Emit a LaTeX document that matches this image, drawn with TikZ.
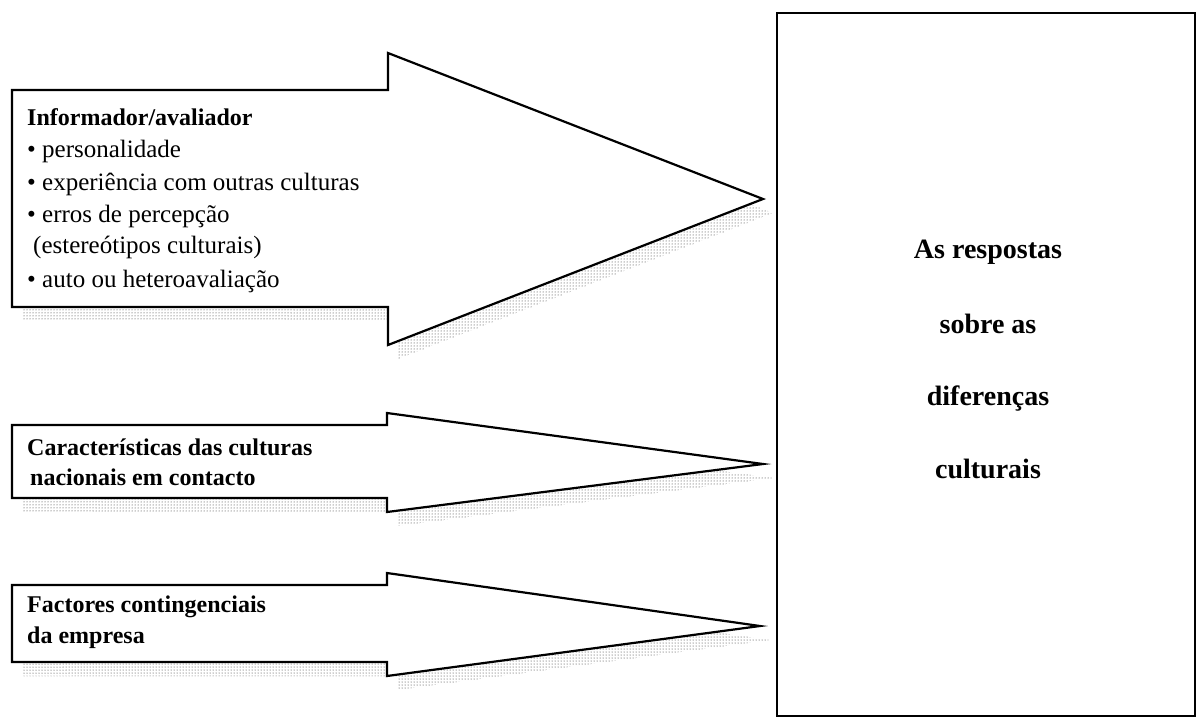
\documentclass[tikz,border=0pt]{standalone}
\usepackage{fontspec}
\setmainfont{Liberation Serif}
\usetikzlibrary{patterns}
\tikzset{
  arrowshape/.style={draw=black, fill=white, line width=2.2pt, line join=miter},
  shadowdots/.style={pattern=dots, pattern color=black!85},
  reg/.style={anchor=base west, inner sep=0pt, font=\fontsize{25}{30}\selectfont},
  hdr/.style={anchor=base west, inner sep=0pt, font=\bfseries\fontsize{24}{30}\selectfont},
  resp/.style={anchor=base, inner sep=0pt, font=\bfseries\fontsize{28}{30}\selectfont},
  bigbox/.style={draw=black, line width=2pt, fill=white, minimum width=418pt, minimum height=703pt, inner sep=0pt}
}
\begin{document}
\begin{tikzpicture}[x=1pt,y=-1pt]
\useasboundingbox (0,0) rectangle (1197,718);
% big box
\node[bigbox] (box) at (986,364.5) {};
% shadows
\begin{scope}[shift={(10,14)}]
  \fill[shadowdots] (12,90) -- (388,90) -- (388,53) -- (763,199) -- (388,345) -- (388,307) -- (12,307) -- cycle;
  \fill[shadowdots] (12,425) -- (387,425) -- (387,413) -- (763,464) -- (387,512) -- (387,498) -- (12,498) -- cycle;
  \fill[shadowdots] (12,585) -- (387,585) -- (387,573) -- (760,626) -- (387,676) -- (387,662) -- (12,662) -- cycle;
\end{scope}
% arrows
\draw[arrowshape] (12,90) -- (388,90) -- (388,53) -- (763,199) -- (388,345) -- (388,307) -- (12,307) -- cycle;
\draw[arrowshape] (12,425) -- (387,425) -- (387,413) -- (763,464) -- (387,512) -- (387,498) -- (12,498) -- cycle;
\draw[arrowshape] (12,585) -- (387,585) -- (387,573) -- (760,626) -- (387,676) -- (387,662) -- (12,662) -- cycle;
% arrow 1 text
\node[hdr] (a1) at (27,125) {Informador/avaliador};
\node[reg] (a2) at (27,157) {• personalidade};
\node[reg] (a3) at (27,190) {• experiência com outras culturas};
\node[reg] (a4) at (27,222) {• erros de percepção};
\node[reg] (a5) at (33,253) {(estereótipos culturais)};
\node[reg] (a6) at (27,287) {• auto ou heteroavaliação};
% arrow 2 text
\node[hdr] (b1) at (27,455) {Características das culturas};
\node[hdr] (b2) at (30,485) {nacionais em contacto};
% arrow 3 text
\node[hdr] (c1) at (27,612) {Factores contingenciais};
\node[hdr] (c2) at (27,643) {da empresa};
% box text
\node[resp] (r1) at (988,258) {As respostas};
\node[resp] (r2) at (988,333) {sobre as};
\node[resp] (r3) at (988,405) {diferenças};
\node[resp] (r4) at (988,478) {culturais};
\end{tikzpicture}
\end{document}
